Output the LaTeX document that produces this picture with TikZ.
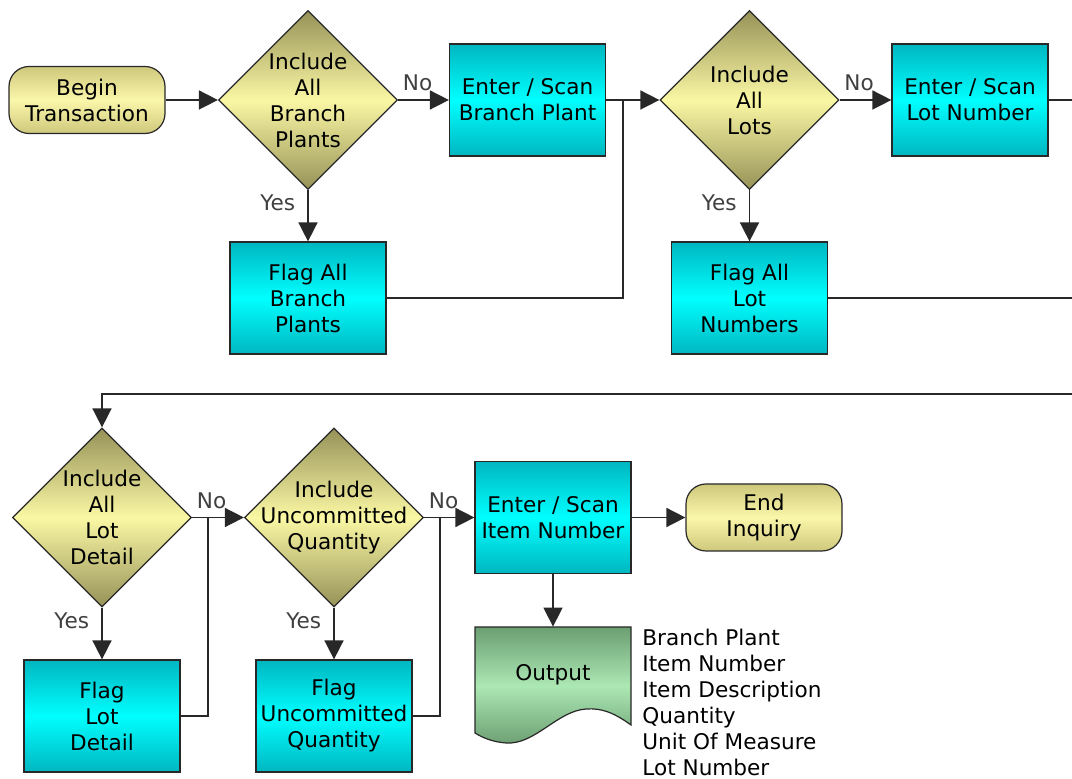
\documentclass[tikz,border=0pt]{standalone}
\usepackage{fontspec}
\setmainfont{DejaVu Sans}
\usepackage{tikz}
\usetikzlibrary{shapes.geometric, arrows.meta, positioning}
\definecolor{termdark}{RGB}{206,200,124}
\definecolor{termmid}{RGB}{250,246,170}
\definecolor{decdark}{RGB}{150,146,88}
\definecolor{decmid}{RGB}{250,247,164}
\definecolor{boxdark}{RGB}{0,182,192}
\definecolor{boxmid}{RGB}{0,255,255}
\definecolor{outdark}{RGB}{108,158,114}
\definecolor{outmid}{RGB}{172,232,180}
\definecolor{edge}{RGB}{40,40,40}
\tikzstyle{startstop} = [rectangle, rounded corners=10pt, minimum width=78pt, minimum height=33.5pt, align=center, draw=edge, line width=0.6pt, top color=termdark, bottom color=termdark, middle color=termmid]
\tikzstyle{decision} = [diamond, aspect=1, minimum size=89.5pt, inner sep=0pt, draw=edge, line width=0.6pt, top color=decdark, bottom color=decdark, middle color=decmid]
\tikzstyle{dectext} = [align=center, inner sep=0pt]
\tikzstyle{process} = [rectangle, minimum width=78pt, minimum height=56pt, inner sep=1pt, align=center, draw=edge, line width=0.6pt, top color=boxdark, bottom color=boxdark, middle color=boxmid]
\tikzstyle{io} = [draw=edge, line width=0.6pt, top color=outdark, bottom color=outdark, middle color=outmid]
\tikzstyle{line} = [draw=edge, line width=0.8pt]
\tikzstyle{arrow} = [line, -{Triangle[length=9.5pt,width=9.5pt]}]
\tikzstyle{yesno} = [text=black!75, inner sep=2pt]

\begin{document}
\begin{tikzpicture}[x=0.5pt, y=-0.5pt, font=\fontsize{10.8}{13}\selectfont]
    \useasboundingbox (0,0) rectangle (1072,779);
    % top row
    \node (begin) [startstop] at (87,100) {Begin\\Transaction};
    \node (incbp) [decision, label={[dectext]center:Include\\All\\Branch\\Plants}] at (308,100) {};
    \node (entbp) [process] at (527.5,100) {Enter / Scan\\Branch Plant};
    \node (flagbp) [process] at (308,298) {Flag All\\Branch\\Plants};
    \node (incl) [decision, label={[dectext]center:Include\\All\\Lots}] at (749.5,100) {};
    \node (entln) [process] at (970,100) {Enter / Scan\\Lot Number};
    \node (flagln) [process] at (749.5,298) {Flag All\\Lot\\Numbers};
    \coordinate (j1) at (623,100);
    \coordinate (e1) at (1072,100);
    \coordinate (e2) at (1072,298);
    \coordinate (e3) at (1072,394);
    % bottom row
    \node (incld) [decision, label={[dectext]center:Include\\All\\Lot\\Detail}] at (102,517.5) {};
    \node (flagld) [process] at (102,716) {Flag\\Lot\\Detail};
    \node (incuq) [decision, label={[dectext]center:Include\\Uncommitted\\Quantity}] at (334,517.5) {};
    \node (flaguq) [process] at (334,716) {Flag\\Uncommitted\\Quantity};
    \node (entin) [process] at (553,517.5) {Enter / Scan\\Item Number};
    \node (endinq) [startstop] at (764,517.5) {End\\Inquiry};
    \coordinate (j2) at (208,517.5);
    \coordinate (j3) at (440,517.5);
    % output document
    \path [io] (475,627) -- (631,627) -- (631,725) .. controls (613,712) and (601,708) .. (586,709) .. controls (557,711) and (535,745) .. (506,743) .. controls (493,742) and (483,738) .. (475,733) -- cycle;
    \node (out) [rectangle, minimum width=78pt, minimum height=48pt] at (553,675) {Output};
    \node (outlist) [anchor=west, align=left, inner sep=0pt] at (642,702) {Branch Plant\\Item Number\\Item Description\\Quantity\\Unit Of Measure\\Lot Number};

    \draw [arrow] (begin) -- (incbp);
    \draw [arrow] (incbp) -- node[yesno, pos=0, anchor=south west, yshift=2pt] {No} (entbp);
    \draw [arrow] (incbp) -- node[yesno, pos=0, anchor=north east, xshift=-4pt] {Yes} (flagbp);
    \draw [arrow] (entbp) -- (incl);
    \draw [line] (flagbp) -| (j1);
    \draw [arrow] (incl) -- node[yesno, pos=0, anchor=south west, yshift=2pt] {No} (entln);
    \draw [arrow] (incl) -- node[yesno, pos=0, anchor=north east, xshift=-4pt] {Yes} (flagln);
    \draw [line] (entln) -- (e1);
    \draw [line] (flagln) -- (e2);
    \draw [arrow] (e3) -| (incld);
    \draw [arrow] (incld) -- node[yesno, pos=0, anchor=south west, yshift=2pt] {No} (incuq);
    \draw [arrow] (incld) -- node[yesno, pos=0, anchor=north east, xshift=-4pt] {Yes} (flagld);
    \draw [line] (flagld) -| (j2);
    \draw [arrow] (incuq) -- node[yesno, pos=0, anchor=south west, yshift=2pt] {No} (entin);
    \draw [arrow] (incuq) -- node[yesno, pos=0, anchor=north east, xshift=-4pt] {Yes} (flaguq);
    \draw [line] (flaguq) -| (j3);
    \draw [arrow] (entin) -- (endinq);
    \draw [arrow] (entin) -- (out);
\end{tikzpicture}
\end{document}
